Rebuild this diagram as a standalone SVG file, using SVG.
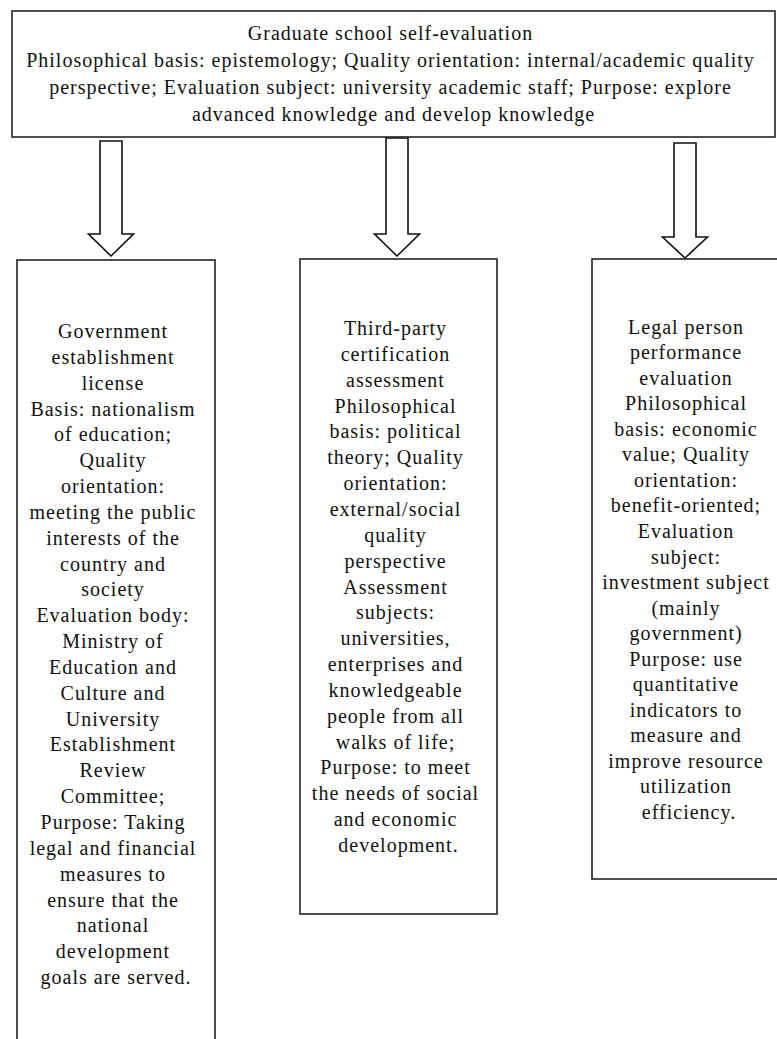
<svg xmlns="http://www.w3.org/2000/svg" width="777" height="1039" viewBox="0 0 777 1039">
<style>
.box{fill:#fff;stroke:#222;stroke-width:1.6}
.arr{fill:#fff;stroke:#111;stroke-width:1.6;stroke-linejoin:miter}
.t{font-family:"Liberation Serif","Times New Roman",serif;font-size:20px;fill:#111;text-anchor:middle;letter-spacing:1px}
</style>
<rect width="777" height="1039" fill="#fff"/>
<g id="connectors">
<path class="arr" d="M100,141 H122 V234 H133.5 L111,256 L88.5,234 H100 Z"/>
<path class="arr" d="M386,138 H408 V234 H419.5 L397,256 L374.5,234 H386 Z"/>
<path class="arr" d="M674,143 H696 V237 H707.5 L685,258 L662.5,237 H674 Z"/>
</g>
<g id="top">
<rect class="box" x="12" y="11" width="763" height="126"/>
<text class="t">
<tspan x="393.5" y="40">Graduate school self-evaluation</tspan>
<tspan x="393.5" y="67">Philosophical basis: epistemology; Quality orientation: internal/academic quality</tspan>
<tspan x="393.5" y="94">perspective; Evaluation subject: university academic staff; Purpose: explore</tspan>
<tspan x="393.5" y="121">advanced knowledge and develop knowledge</tspan>
</text>
</g>
<g id="left">
<rect class="box" x="17" y="260" width="198" height="800"/>
<text class="t">
<tspan x="116" y="338">Government</tspan>
<tspan x="116" y="363.8">establishment</tspan>
<tspan x="116" y="389.7">license</tspan>
<tspan x="116" y="415.5">Basis: nationalism</tspan>
<tspan x="116" y="441.4">of education;</tspan>
<tspan x="116" y="467.2">Quality</tspan>
<tspan x="116" y="493">orientation:</tspan>
<tspan x="116" y="518.9">meeting the public</tspan>
<tspan x="116" y="544.7">interests of the</tspan>
<tspan x="116" y="570.6">country and</tspan>
<tspan x="116" y="596.4">society</tspan>
<tspan x="116" y="622.2">Evaluation body:</tspan>
<tspan x="116" y="648.1">Ministry of</tspan>
<tspan x="116" y="673.9">Education and</tspan>
<tspan x="116" y="699.8">Culture and</tspan>
<tspan x="116" y="725.6">University</tspan>
<tspan x="116" y="751.4">Establishment</tspan>
<tspan x="116" y="777.3">Review</tspan>
<tspan x="116" y="803.1">Committee;</tspan>
<tspan x="116" y="829">Purpose: Taking</tspan>
<tspan x="116" y="854.8">legal and financial</tspan>
<tspan x="116" y="880.6">measures to</tspan>
<tspan x="116" y="906.5">ensure that the</tspan>
<tspan x="116" y="932.3">national</tspan>
<tspan x="116" y="958.2">development</tspan>
<tspan x="116" y="984">goals are served.</tspan>
</text>
</g>
<g id="middle">
<rect class="box" x="300" y="259" width="197" height="655"/>
<text class="t">
<tspan x="398.5" y="335">Third-party</tspan>
<tspan x="398.5" y="360.9">certification</tspan>
<tspan x="398.5" y="386.7">assessment</tspan>
<tspan x="398.5" y="412.6">Philosophical</tspan>
<tspan x="398.5" y="438.4">basis: political</tspan>
<tspan x="398.5" y="464.3">theory; Quality</tspan>
<tspan x="398.5" y="490.1">orientation:</tspan>
<tspan x="398.5" y="515.9">external/social</tspan>
<tspan x="398.5" y="541.8">quality</tspan>
<tspan x="398.5" y="567.6">perspective</tspan>
<tspan x="398.5" y="593.5">Assessment</tspan>
<tspan x="398.5" y="619.3">subjects:</tspan>
<tspan x="398.5" y="645.2">universities,</tspan>
<tspan x="398.5" y="671">enterprises and</tspan>
<tspan x="398.5" y="696.8">knowledgeable</tspan>
<tspan x="398.5" y="722.7">people from all</tspan>
<tspan x="398.5" y="748.5">walks of life;</tspan>
<tspan x="398.5" y="774.4">Purpose: to meet</tspan>
<tspan x="398.5" y="800.2">the needs of social</tspan>
<tspan x="398.5" y="826.1">and economic</tspan>
<tspan x="398.5" y="852">development.</tspan>
</text>
</g>
<g id="right">
<rect class="box" x="592" y="259" width="194" height="620"/>
<text class="t">
<tspan x="689" y="333.5">Legal person</tspan>
<tspan x="689" y="359">performance</tspan>
<tspan x="689" y="384.6">evaluation</tspan>
<tspan x="689" y="410.1">Philosophical</tspan>
<tspan x="689" y="435.7">basis: economic</tspan>
<tspan x="689" y="461.2">value; Quality</tspan>
<tspan x="689" y="486.8">orientation:</tspan>
<tspan x="689" y="512.3">benefit-oriented;</tspan>
<tspan x="689" y="537.9">Evaluation</tspan>
<tspan x="689" y="563.5">subject:</tspan>
<tspan x="689" y="589">investment subject</tspan>
<tspan x="689" y="614.6">(mainly</tspan>
<tspan x="689" y="640.1">government)</tspan>
<tspan x="689" y="665.7">Purpose: use</tspan>
<tspan x="689" y="691.2">quantitative</tspan>
<tspan x="689" y="716.8">indicators to</tspan>
<tspan x="689" y="742.3">measure and</tspan>
<tspan x="689" y="767.9">improve resource</tspan>
<tspan x="689" y="793.4">utilization</tspan>
<tspan x="689" y="819">efficiency.</tspan>
</text>
</g>
</svg>
